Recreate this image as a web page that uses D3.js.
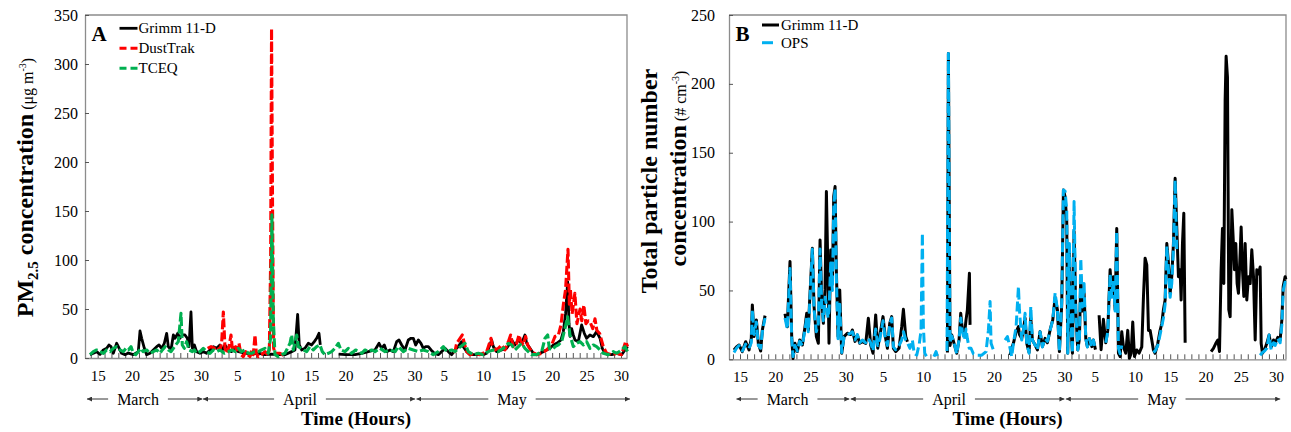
<!DOCTYPE html>
<html>
<head>
<meta charset="utf-8">
<script src="https://cdnjs.cloudflare.com/ajax/libs/d3/7.8.5/d3.min.js"></script>
<style>
  body { margin: 0; background: #fff; }
  svg { font-family: 'Liberation Serif', 'Times New Roman', serif; }
</style>
</head>
<body>
<div id="chart"></div>
<script>
// time is counted in days from 28 Feb: 1 = 1 March, 32 = 1 April, 62 = 1 May
// null = gap in the record

// panel A, PM2.5 (ug m-3)
const grimmPM = [[13.89,3.4],[14.37,4.8],[14.85,6.5],[15.34,3.8],[15.82,8.2],[16.31,9.9],[16.64,13.3],[16.94,11.6],[17.27,4.8],[17.76,15],[18.0,11.6],[18.48,4.8],[18.97,3.4],[19.45,5],[20.18,3.4],[20.9,6.5],[21.15,27.6],[21.39,20.1],[21.78,9.9],[22.11,3.4],[22.6,4.8],[23.08,8.2],[23.57,11.6],[23.91,13.3],[24.29,9.9],[24.68,15],[25.02,25.2],[25.26,11.6],[25.65,8.2],[25.99,23.5],[26.23,20.1],[26.62,25.2],[26.95,20.1],[27.29,23.5],[27.68,23.5],[28.02,20.1],[28.26,11.6],[28.55,47],[28.75,9.9],[29.04,13.3],[29.37,6.5],[29.86,4.8],[30.34,6.5],[30.83,4.8],[31.31,8.2],[31.8,11.6],[32.28,9.9],[32.76,13.3],[33.1,8.2],[33.49,13.3],[33.97,8.2],[34.46,6.5],[34.94,9.9],[35.43,6.5],[36.4,5],[37.4,4],[38.3,5],[39.3,3.4],[40.2,4],[41.2,3.4],[42.2,3.4],[43.17,6.5],[43.65,8.2],[44.04,44.6],[44.28,13.3],[44.62,8.2],[45.1,9.9],[45.59,15],[46.07,13.3],[46.46,16.7],[46.8,20.1],[47.14,25.2],[47.33,13.3],null,
  [50.0,4],[51.0,3.4],[52.37,3.4],[53.34,4.8],[54.31,6.5],[55.27,8.2],[55.86,15],[56.24,9.9],[56.63,13.3],[56.97,6.5],[57.45,8.2],[57.94,6.5],[58.42,16.7],[58.76,18.4],[59.15,13.3],[59.63,8.2],[60.11,18.4],[60.5,20.1],[60.84,20.1],[61.18,13.3],[61.57,18.4],[61.95,15],[62.29,9.9],[62.63,11.6],[63.02,11.6],[63.41,8.2],[63.89,4.8],[64.47,3.4],[64.95,6.5],[65.44,9.9],[65.92,6.5],[66.41,3.4],[66.89,8.2],[67.37,11.6],[67.86,16.7],[68.1,11.6],[68.59,6.5],[69.07,3.4],[70.0,3.5],[71.0,3.4],[71.49,4.8],[71.97,13.3],[72.21,18.4],[72.46,11.6],[72.94,6.5],[73.67,8.2],[74.39,9.9],[74.88,15],[75.12,18.4],[75.6,13.3],[76.09,18.4],[76.57,15],[77.05,23.5],[77.3,15],[77.78,9.9],[78.27,4.8],[78.75,3.4],[79.23,4.8],[79.72,6.5],[80.2,8.2],[80.69,9.9],[81.17,13.3],[81.65,15],[81.99,16.7],[82.28,18.4],[82.62,27],[82.95,45],[83.25,78],[83.45,35],[83.6,22],[83.83,30],[84.07,23.5],[84.32,18.4],[84.8,16.7],[85.28,33.7],[85.67,25.2],[86.01,20.1],[86.49,23.5],[86.98,21.8],[87.46,26.9],[87.95,20.1],[88.28,9.9],[88.67,4.8],[89.16,3.4],[89.64,3.4],[90.37,4.8],[91.09,3.4],[91.58,8.2],[91.96,11.6]];

const dustTrakPM = [[30.97,9.9],[31.46,11.6],[31.94,9.9],[32.42,11.6],[32.76,8.2],[33.0,15],[33.25,47],[33.49,9.9],[33.73,4.8],[34.07,11.6],[34.36,23.5],[34.55,9.9],[34.84,13.3],[35.18,8.2],[35.52,15],[35.81,3.4],[36.15,1.4],[36.49,6.5],[36.78,3.4],[37.12,1.4],[37.36,8.2],[37.6,3.4],[37.85,23.5],[38.04,4.8],[38.33,1.4],[38.81,3.4],[39.3,6.5],[39.68,3.4],[39.93,8.2],[40.12,100],[40.25,336],[40.4,150],[40.55,10],[40.75,4.8],[40.99,4.8],[41.48,4.8],[41.81,3.4],[42.2,2],null,
  [66.65,6.5],[66.89,6.5],[67.13,15],[67.62,20.1],[67.96,23.5],[68.25,15],[68.59,6.5],[69.07,3.4],[69.8,4.8],[70.52,3.4],[71.49,6.5],[71.73,11.6],[72.12,20.1],[72.31,13.3],[72.7,8.2],[73.18,9.9],[73.67,13.3],[74.15,8.2],[74.64,16.7],[74.97,23.5],[75.36,11.6],[75.85,15],[76.18,23.5],[76.47,16.7],[76.81,13.3],[77.15,22],[77.44,13.3],[78.02,6.5],[78.75,3.4],[79.48,4.8],[80.2,8.2],[80.93,13.3],[81.41,22],[81.9,23.5],[82.28,33.7],[82.62,54],[82.95,70],[83.3,111],[83.5,55],[83.65,70],[83.9,45],[84.3,66],[84.6,35],[85.05,50],[85.3,38],[85.6,54],[85.9,35],[86.25,38],[86.5,37],[86.9,30],[87.22,40],[87.5,28],[87.9,25],[88.43,11.6],[88.91,4.8],[89.64,3.4],[90.37,4.8],[91.09,3.4],[91.67,16.7],[91.96,11.6]];

const tceqPM = [[13.89,3.4],[14.37,6.5],[14.85,8.2],[15.34,6.5],[15.82,4.8],[16.31,8.2],[16.8,6.5],[17.27,9.9],[17.76,11.6],[18.24,8.2],[18.73,6.5],[19.1,9.9],[19.45,8.2],[19.84,11.6],[20.18,4.8],[20.52,3.4],[20.9,6.5],[21.29,9.9],[21.6,6.5],[22.11,8.2],[22.6,4.8],[23.08,6.5],[23.57,8.2],[24.05,4.8],[24.39,8.2],[24.8,11.6],[25.26,8.2],[25.65,6.5],[25.99,9.9],[26.33,13.3],[26.71,16.7],[27.1,45.6],[27.29,13.3],[27.58,9.9],[27.92,16.7],[28.26,8.2],[28.75,6.5],[29.04,8.2],[29.37,4.8],[29.86,6.5],[30.34,9.9],[30.83,6.5],[31.3,4.8],[31.8,8.2],[32.28,6.5],[32.76,8.2],[33.4,4.8],[34.0,6.5],[34.46,8.2],[35.0,6.5],[35.43,9.9],[35.9,6.5],[36.39,8.2],[36.9,4.8],[37.36,4.8],[37.8,6.5],[38.33,6.5],[38.8,8.2],[39.3,9.9],[39.78,4.8],[40.1,20],[40.3,146],[40.5,40],[40.75,3.4],[41.23,1.4],[41.7,3.4],[42.2,4.8],[42.44,8.2],[42.93,15],[43.17,23.5],[43.41,8.2],[43.9,23.5],[44.14,11.6],[44.52,9.9],[44.86,8.2],[45.35,6.5],[45.83,11.6],[46.32,8.2],[46.8,11.6],[47.28,13.3],[47.62,6.5],[48.01,3.4],[48.49,4.8],[48.98,6.5],[49.46,9.9],[49.95,15],[50.33,8.2],[50.91,6.5],[51.4,9.9],[51.88,4.8],[52.46,8.2],[52.95,6.5],[53.34,4.8],[53.82,8.2],[54.31,6.5],[54.79,8.2],[55.27,6.5],[56.0,9.9],[56.73,6.5],[57.45,8.2],[58.2,6.5],[58.66,11.6],[59.39,6.5],[60.11,9.9],[60.84,8.2],[61.57,6.5],[62.29,8.2],[63.02,6.5],[63.74,3.4],[64.47,6.5],[65.2,11.6],[65.68,6.5],[66.41,8.2],[66.89,6.5],[67.4,9.9],[68.34,15],[68.83,6.5],[69.55,3.4],[70.28,4.8],[71.0,3.4],[71.73,6.5],[72.46,8.2],[73.18,6.5],[73.91,9.9],[74.64,15],[75.12,13.3],[75.6,8.2],[76.09,11.6],[76.57,15],[77.05,9.9],[77.54,6.5],[78.02,3.4],[78.75,3.4],[79.48,6.5],[79.96,20.1],[80.35,23.5],[80.59,9.9],[81.0,8.2],[81.41,11.6],[81.9,13.3],[82.38,16.7],[82.86,30],[83.25,42],[83.59,23.5],[84.07,11.6],[84.56,15],[85.04,16.7],[85.53,13.3],[86.01,16.7],[86.49,9.9],[86.98,13.3],[87.46,11.6],[87.95,8.2],[88.43,4.8],[89.16,3.4],[89.88,6.5],[90.37,4.8],[91.09,8.2],[91.58,11.6],[91.96,6.5]];

// panel B, total particle number (# cm-3)
const grimmN = [[14.15,6.8],[14.5,9],[14.86,10.4],[15.33,5.6],[15.8,12.8],[16.28,6.8],[16.6,15],[16.75,39.5],[16.99,16.5],[17.32,28.6],[17.6,11.6],[17.93,6],[18.17,21.3],[18.55,31.7],null,
  [21.38,33],[21.71,23.7],[22.09,71],[22.33,16.5],[22.52,0.5],[22.8,11.6],[23.13,5.6],[23.46,14],[23.84,10.4],[24.22,23.7],[24.46,33.4],[24.69,21.3],[24.88,43.1],[25.26,80.6],[25.5,38.3],[25.83,16.5],[26.11,11.6],[26.35,86.6],[26.58,45.6],[26.82,26.1],[27.06,50.4],[27.25,121.8],[27.48,60],[27.62,11.6],[27.86,79.4],[28.1,55.2],[28.29,118.2],[28.48,125.4],[28.66,64.9],[28.9,16.5],[29.14,50.4],[29.42,4.4],[29.75,16.5],[30.22,18.9],[30.7,18],[30.93,21.3],[31.31,13],[31.64,17.7],[31.97,11.6],[32.35,12.8],[32.83,11.6],[33.2,29.8],[33.53,10.4],[33.87,4.4],[34.24,32.2],[34.53,8],[34.81,16.5],[35.28,31],[35.57,17.7],[35.9,8],[36.23,26.1],[36.51,31],[36.75,8],[37.08,5.6],[37.55,8],[37.93,23.7],[38.17,36.3],[38.5,16.5],[38.74,12.8],null,
  [44.41,5],[44.55,222],[44.78,10],[45.02,17.7],[45.35,11.6],[45.73,4.4],[46.06,14],[46.3,33.4],[46.53,21.3],[46.82,17.7],[47.05,28.6],[47.24,35.9],[47.53,62.5],[47.62,25],null,
  [53.29,3],[53.53,8],[53.77,11.6],[54.15,20],[54.48,23.7],[54.62,18],[54.95,15.2],[55.19,21.3],[55.42,30],[55.66,11.6],[55.99,5],[56.23,30],[56.46,14],[56.84,10.4],[57.17,6.8],[57.55,20.1],[57.88,9.2],[58.26,15.2],[58.59,12],[58.97,21.3],[59.35,28.6],[59.68,45],[60.01,35.9],[60.29,5.6],[60.62,40],[60.86,123],[61.1,118],[61.33,100],[61.47,4.4],[61.71,80],[61.95,21.3],[62.14,4.4],[62.37,93],[62.61,35.9],[62.89,6.8],[63.13,15],[63.32,60],[63.55,35],[63.79,48],[64.03,15.2],[64.26,9.2],[64.55,15],[64.88,9.2],[65.11,14],[65.4,7],null,
  [65.92,32],[66.2,7],[66.53,29],[66.86,12],[67.15,21],[67.48,65],[67.71,48],[67.95,60],[68.19,36],[68.42,95],[68.66,4.4],[68.9,2],[69.13,20],[69.37,9],[69.7,4.4],[69.98,21],[70.22,0.7],[70.46,4.4],[70.69,27],[70.93,2],[71.26,6.8],[71.59,4.4],[71.97,9],[72.21,45.6],[72.44,73.4],[72.68,68.5],[72.92,21],[73.15,21],[73.39,14],[73.62,6.8],[73.86,4.4],[74.24,11.6],[74.57,21],[74.81,26],[75.04,36],[75.28,43],[75.52,84],[75.75,70],[75.99,48],[76.22,60],[76.46,84],[76.7,131.5],[76.93,96],[77.17,60],[77.41,65],[77.55,43],[77.74,84],[77.93,106],[78.12,12],null,
  [81.8,5.6],[82.13,8],[82.47,11.6],[82.75,14],[82.99,5.6],[83.22,65],[83.41,95],[83.6,55],[83.79,188],[83.93,220],[84.12,205],[84.31,36],[84.5,31],[84.74,108.6],[84.92,89],[85.11,65],[85.3,84],[85.49,55],[85.68,48],[85.92,77],[86.06,96],[86.25,65],[86.44,45.6],[86.63,84],[86.86,43],[87.1,60],[87.34,55],[87.57,79.5],[87.81,60],[88.05,14],[88.28,65],[88.52,62],[88.75,67],[88.9,11.6],[89.08,4.4],[89.37,6.8],[89.7,11.6],[90.03,17.7],[90.31,9],[90.65,14],[90.88,11.6],[91.26,16],[91.59,14],[91.83,28.6],[92.02,52.8],[92.3,60],[92.4,58]];

const opsN = [[14.15,5],[14.5,8],[14.86,10],[15.33,6],[15.8,11],[16.28,8],[16.6,12],[16.75,36],[16.99,18],[17.32,27],[17.6,10],[17.93,8],[18.17,20],[18.55,30],null,
  [21.38,30],[21.71,22],[22.09,66],[22.33,15],[22.52,2],[22.8,10],[23.13,6],[23.46,13],[23.84,10],[24.22,22],[24.46,30],[24.69,20],[24.88,40],[25.26,80],[25.5,36],[25.83,20],[26.11,26],[26.35,80],[26.58,40],[26.82,28],[27.06,45],[27.25,40],[27.48,30],[27.62,35],[27.86,70],[28.1,50],[28.29,110],[28.48,124],[28.66,60],[28.9,15],[29.14,40],[29.42,5],[29.75,16],[30.22,18],[30.7,19],[30.93,20],[31.31,14],[31.64,18],[31.97,12],[32.35,14],[32.83,12],[33.2,15],[33.53,12],[33.87,6],[34.24,22],[34.53,10],[34.81,14],[35.28,28],[35.57,16],[35.9,10],[36.23,25],[36.51,30],[36.75,9],[37.08,7],[37.55,10],[37.93,14],[38.17,20],[38.5,14],[38.74,12],[39.1,8],[39.44,14],[39.7,4.4],[40.06,3],[40.43,11.6],[40.67,21],[40.86,91.6],[41.0,24],[41.19,4.4],[41.47,2],null,
  [42.5,2],[42.8,5.6],[43.0,2],null,
  [44.35,6],[44.55,222],[44.78,12],[45.02,17],[45.35,12],[45.73,4],[46.06,14],[46.3,30],[46.53,20],[46.82,14],[47.05,22],[47.24,15],[47.5,8],[47.76,8],[48.09,4],[48.57,3],[49.28,3],[49.89,5.6],[50.22,21],[50.46,42],[50.6,11.6],[50.93,6.8],[51.31,8],null,
  [52.58,14],[52.92,16.5],[53.2,10.4],[53.53,2],[53.77,11.6],[54.15,23.7],[54.48,52.8],[54.62,36],[54.95,14],[55.19,21.3],[55.42,33.4],[55.66,11.6],[55.99,4.4],[56.23,38.3],[56.46,14],[56.84,10.4],[57.17,6.8],[57.55,20],[57.88,9],[58.26,15],[58.59,13],[58.97,21],[59.35,28.6],[59.68,48],[60.01,36],[60.29,5.6],[60.62,43],[60.86,123],[61.1,122],[61.33,108],[61.47,4.4],[61.71,84],[61.95,21],[62.14,4.4],[62.37,114.6],[62.61,36],[62.89,6.8],[63.13,15],[63.32,73.4],[63.55,38],[63.79,55],[64.03,15],[64.26,9],[64.55,15],[64.88,9],[65.11,14],[65.4,7],null,
  [66.86,12],[67.15,20],[67.48,62],[67.71,45],[67.95,58],[68.19,35],[68.42,93],[68.66,8],[68.9,4],[69.13,10],null,
  [73.62,5],[73.86,6],[74.24,10],[74.57,18],[74.81,24],[75.04,30],[75.28,40],[75.52,82],[75.75,65],[75.99,45],[76.22,55],[76.46,80],[76.7,130],[76.93,80],null,
  [88.75,3],[89.08,5],[89.37,6],[89.7,8],[90.03,17.7],[90.31,7],[90.65,12],[90.88,10],[91.26,15],[91.59,12],[91.83,25],[92.02,50],[92.3,56],[92.4,55]];

// axis ticks
const tickDays   = [15, 20, 25, 30, 36, 41, 46, 51, 56, 61, 66, 71, 76, 81, 86, 91];
const tickLabels = ['15','20','25','30','5','10','15','20','25','30','5','10','15','20','25','30'];
const yTicksA = [0, 50, 100, 150, 200, 250, 300, 350];
const yTicksB = [0, 50, 100, 150, 200, 250];
const monthNames = ['March', 'April', 'May'];

const width = 1291, height = 432;
const svg = d3.select('#chart').append('svg')
  .attr('width', width)
  .attr('height', height);

// arrow heads for the month bands
const defs = svg.append('defs');
defs.append('marker')
  .attr('id', 'arrow')
  .attr('viewBox', '0 0 6 6')
  .attr('refX', 6).attr('refY', 3)
  .attr('markerWidth', 5).attr('markerHeight', 5)
  .attr('markerUnits', 'userSpaceOnUse')
  .attr('orient', 'auto-start-reverse')
  .append('path')
  .attr('d', 'M0,0L6,3L0,6z')
  .attr('fill', '#333');

const tickLabelOf = new Map(tickDays.map((d, i) => [d, tickLabels[i]]));
const axisGrey = '#8c8c8c';

function drawPanel(p) {
  const x = d3.scaleLinear().domain(p.days).range([p.left, p.right]);
  const y = d3.scaleLinear().domain([0, p.yMax]).range([p.bottom, p.top]);
  const g = svg.append('g');

  // top and right frame
  g.append('path')
    .attr('d', `M${p.left},${p.top}H${p.right}V${p.bottom}`)
    .attr('fill', 'none')
    .attr('stroke', axisGrey)
    .attr('stroke-width', 1.3);

  // x axis: one inward tick per day, labels every 5 days
  const xAxis = g.append('g')
    .attr('transform', `translate(0,${p.bottom})`)
    .call(d3.axisBottom(x)
      .tickValues(d3.range(14, p.lastTick + 1))
      .tickSize(-5)
      .tickSizeOuter(0)
      .tickPadding(12)
      .tickFormat(d => tickLabelOf.get(d) || ''));
  xAxis.selectAll('text')
    .attr('font-size', 15)
    .attr('font-family', 'Liberation Serif')
    .attr('fill', '#000')
    .attr('dx', function(d) { return (tickLabelOf.get(d) || '').length === 1 ? -5 : 0; });

  // y axis
  const yAxis = g.append('g')
    .attr('transform', `translate(${p.left},0)`)
    .call(d3.axisLeft(y)
      .tickValues(p.yTicks)
      .tickSize(-4)
      .tickSizeOuter(0)
      .tickPadding(p.yPad));
  yAxis.selectAll('text')
    .attr('font-size', 16)
    .attr('font-family', 'Liberation Serif')
    .attr('fill', '#000');

  [xAxis, yAxis].forEach(a => {
    a.select('.domain').attr('stroke', axisGrey).attr('stroke-width', 1.3);
    a.selectAll('.tick line').attr('stroke', '#555');
  });

  // series
  const line = d3.line()
    .defined(d => d !== null)
    .x(d => x(d[0]))
    .y(d => y(d[1]));

  p.series.forEach(s => {
    g.append('path')
      .datum(s.values)
      .attr('d', line)
      .attr('fill', 'none')
      .attr('stroke', s.color)
      .attr('stroke-width', s.width)
      .attr('stroke-dasharray', s.dash)
      .attr('stroke-linejoin', 'round');
  });

  // panel letter and legend
  g.append('text')
    .attr('x', p.left + 6.5)
    .attr('y', 40.5)
    .attr('font-size', 21)
    .attr('font-weight', 'bold')
    .text(p.letter);

  p.series.forEach((s, i) => {
    const ly = p.legendY[i];
    g.append('line')
      .attr('x1', p.left + p.legendX).attr('x2', p.left + p.legendX + s.legendLen)
      .attr('y1', ly).attr('y2', ly)
      .attr('stroke', s.color)
      .attr('stroke-width', s.width)
      .attr('stroke-dasharray', s.legendDash);
    g.append('text')
      .attr('x', p.left + p.legendX + 19)
      .attr('y', ly + 5)
      .attr('font-size', 15)
      .text(s.name);
  });

  // month bands with arrows
  p.months.forEach((m, i) => {
    const t = g.append('text')
      .attr('x', x(m[2]))
      .attr('y', 405)
      .attr('text-anchor', 'middle')
      .attr('font-size', 16)
      .text(monthNames[i]);
    const half = t.node().getComputedTextLength() / 2;
    g.append('line')
      .attr('x1', x(m[0])).attr('x2', x(m[2]) - half - 9)
      .attr('y1', 399).attr('y2', 399)
      .attr('stroke', '#333').attr('stroke-width', 1)
      .attr('marker-start', 'url(#arrow)');
    g.append('line')
      .attr('x1', x(m[2]) + half + 9).attr('x2', x(m[1]))
      .attr('y1', 399).attr('y2', 399)
      .attr('stroke', '#333').attr('stroke-width', 1)
      .attr('marker-end', 'url(#arrow)');
  });

  g.append('text')
    .attr('x', (p.left + p.right) / 2)
    .attr('y', 424.5)
    .attr('text-anchor', 'middle')
    .attr('font-size', 19)
    .attr('font-weight', 'bold')
    .text('Time (Hours)');

  return g;
}

drawPanel({
  letter: 'A',
  left: 85, right: 627, top: 15, bottom: 358,
  days: [13.16, 91.87], lastTick: 91,
  yMax: 350, yTicks: yTicksA, yPad: 7,
  legendX: 34.5, legendY: [28.3, 48.3, 68.3],
  months: [[13.45, 30.2, 20.86], [30.3, 61.1, 44.38], [61.3, 92.3, 75.17]],
  series: [
    { name: 'Grimm 11-D', values: grimmPM, color: '#000000', width: 2.8, dash: null, legendLen: 18, legendDash: null },
    { name: 'DustTrak', values: dustTrakPM, color: '#ff0000', width: 3.1, dash: '9,3', legendLen: 18, legendDash: '7,4' },
    { name: 'TCEQ', values: tceqPM, color: '#00b050', width: 3.1, dash: '9,3', legendLen: 18, legendDash: '7,4' }
  ]
});

drawPanel({
  letter: 'B',
  left: 729, right: 1286, top: 15, bottom: 359.3,
  days: [13.44, 92.42], lastTick: 92,
  yMax: 250, yTicks: yTicksB, yPad: 14,
  legendX: 33, legendY: [25, 42.7],
  months: [[14.5, 30.5, 21.74], [30.7, 61.0, 44.64], [61.2, 91.6, 74.82]],
  series: [
    { name: 'Grimm 11-D', values: grimmN, color: '#000000', width: 3, dash: null, legendLen: 17, legendDash: null },
    { name: 'OPS', values: opsN, color: '#00b0f0', width: 3, dash: '10,4', legendLen: 17, legendDash: '11,6' }
  ]
});

// y-axis titles
const titleA = svg.append('text')
  .attr('transform', 'translate(33,187.5) rotate(-90)')
  .attr('text-anchor', 'middle');
titleA.append('tspan').attr('font-size', 24).attr('font-weight', 'bold').text('PM');
titleA.append('tspan').attr('font-size', 15).attr('font-weight', 'bold').attr('dy', 5).text('2.5');
titleA.append('tspan').attr('font-size', 24).attr('font-weight', 'bold').attr('dy', -5).text(' concentration');
titleA.append('tspan').attr('font-size', 16).text(' (μg m');
titleA.append('tspan').attr('font-size', 10).attr('dy', -7).text('-3');
titleA.append('tspan').attr('font-size', 16).attr('dy', 7).text(')');

svg.append('text')
  .attr('transform', 'translate(657,181) rotate(-90)')
  .attr('text-anchor', 'middle')
  .attr('font-size', 24)
  .attr('font-weight', 'bold')
  .text('Total particle number');

const titleB = svg.append('text')
  .attr('transform', 'translate(686,168.5) rotate(-90)')
  .attr('text-anchor', 'middle');
titleB.append('tspan').attr('font-size', 24).attr('font-weight', 'bold').text('concentration');
titleB.append('tspan').attr('font-size', 16).text(' (# cm');
titleB.append('tspan').attr('font-size', 10).attr('dy', -7).text('-3');
titleB.append('tspan').attr('font-size', 16).attr('dy', 7).text(')');
</script>
</body>
</html>
